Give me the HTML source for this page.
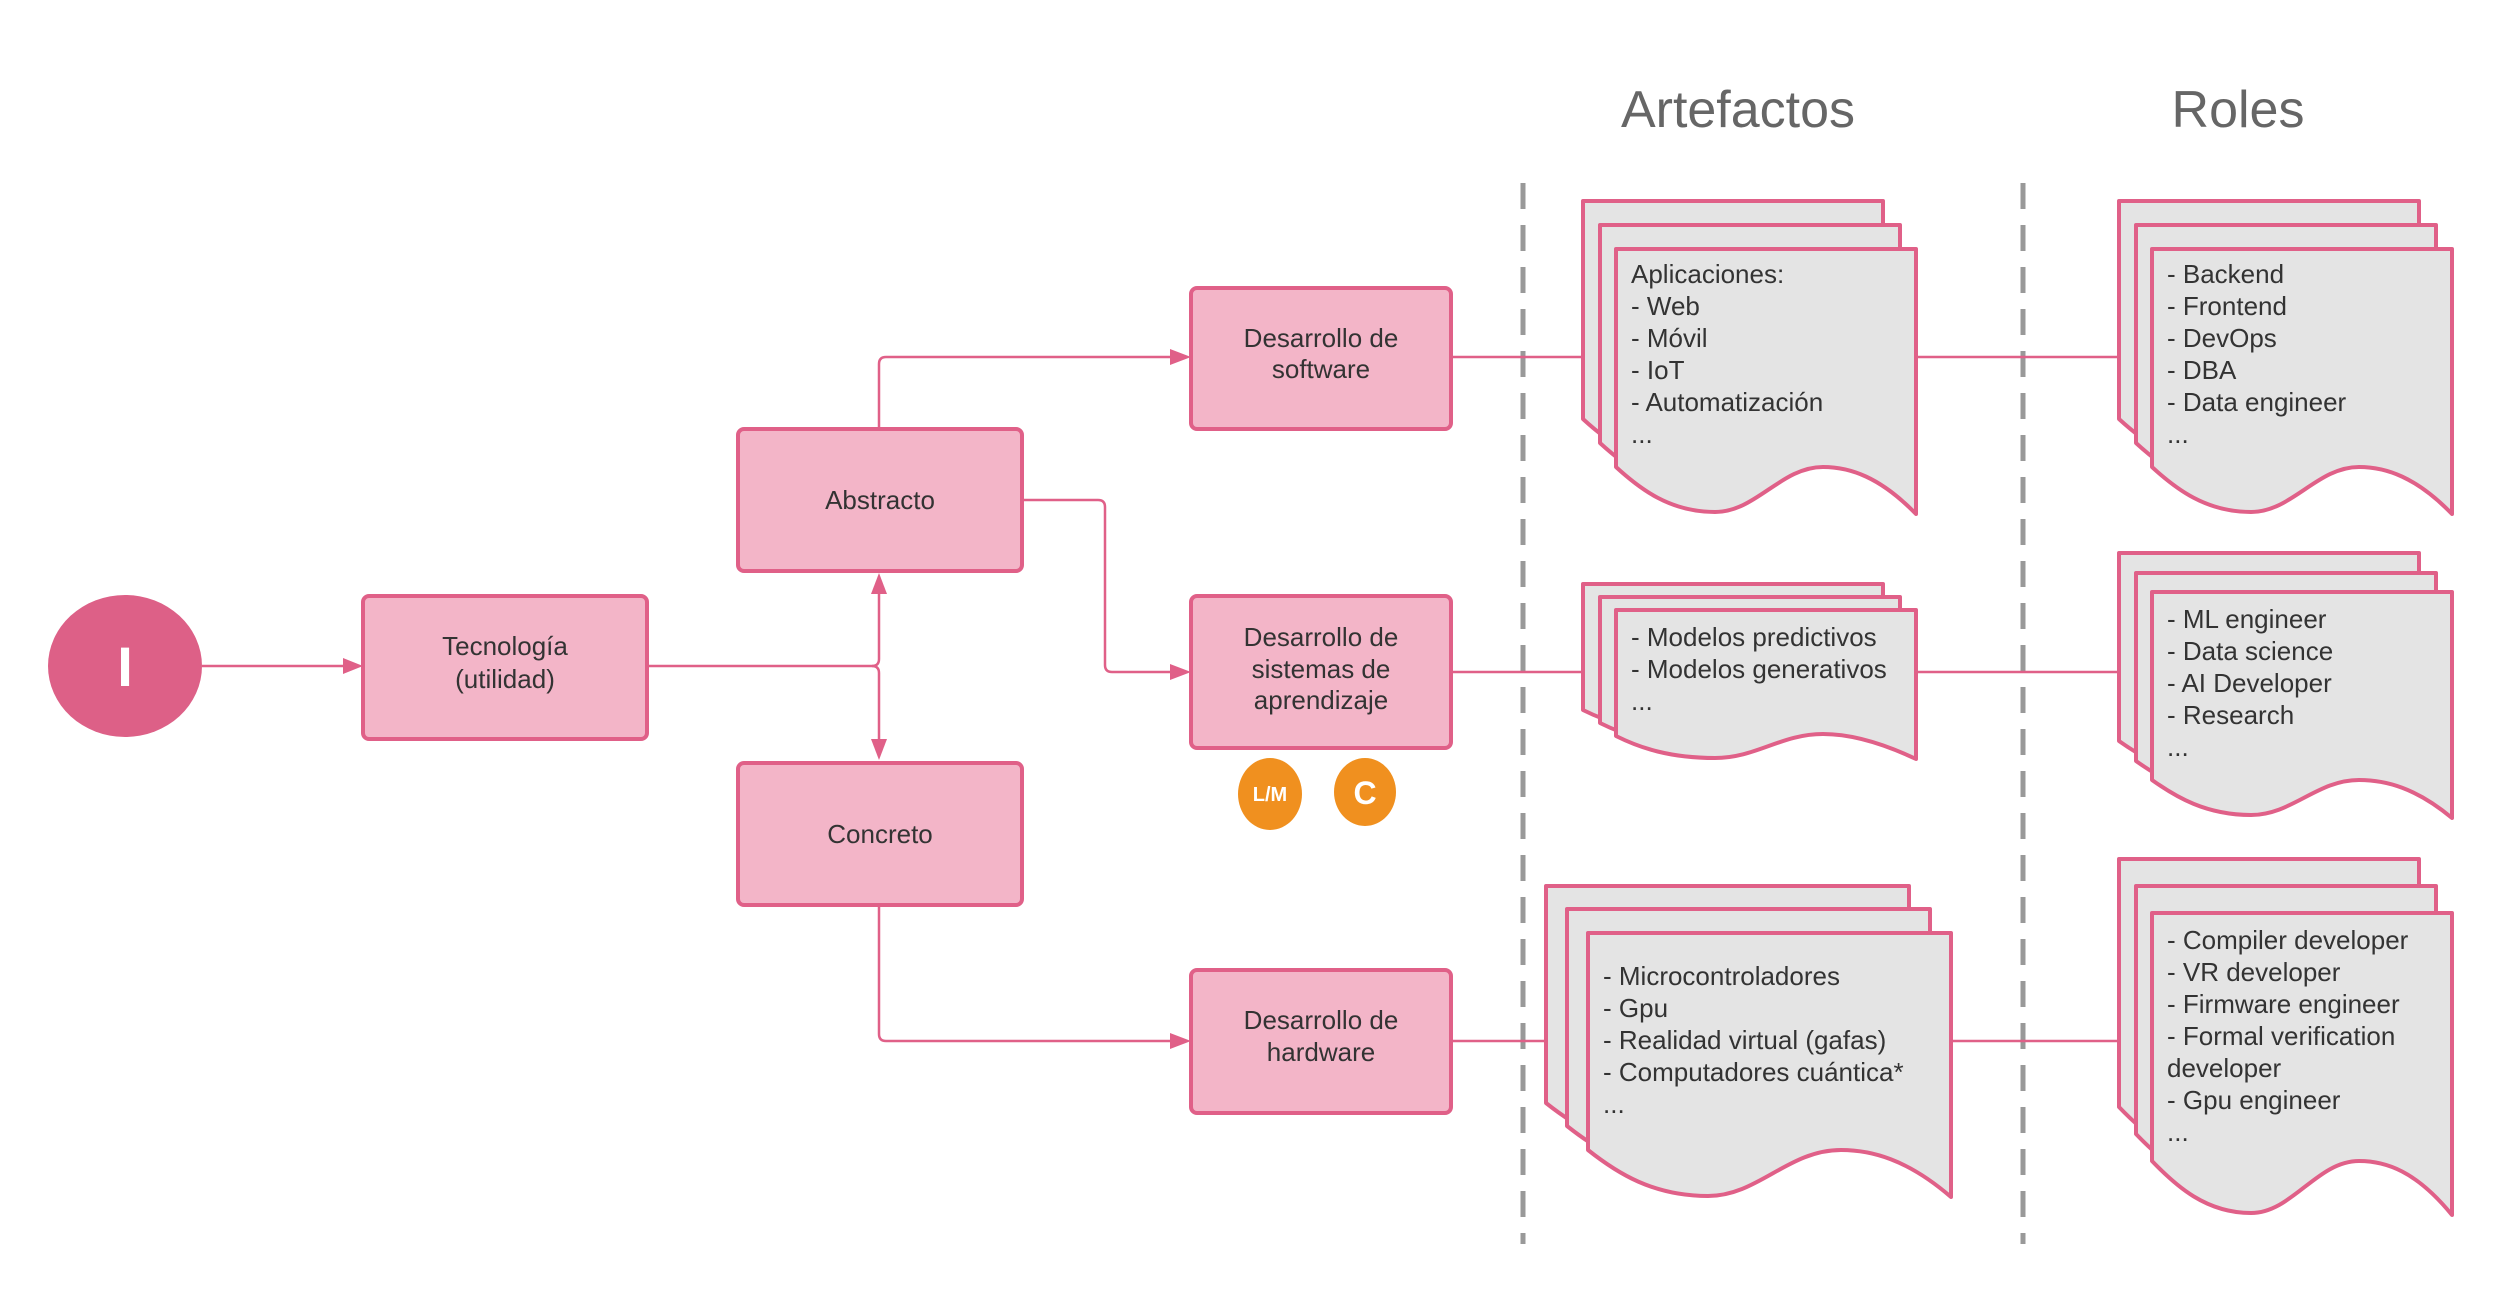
<!DOCTYPE html>
<html><head><meta charset="utf-8"><style>
html,body{margin:0;padding:0;background:#fff}
svg{display:block}
text{font-family:"Liberation Sans",sans-serif}
</style></head><body>
<svg width="2500" height="1289" viewBox="0 0 2500 1289" xmlns="http://www.w3.org/2000/svg">
<defs>
<path id="d1" d="M0,0 H300 V265 C264,228 234,218 207,218 C165,218 140,263 99,263 C54,263 24,240 0,218 Z"/>
<path id="d2" d="M0,0 H300 V149 C264,132 234,124 207,124 C165,124 140,148 99,148 C54,148 24,138 0,126 Z"/>
<path id="r2" d="M0,0 H300 V226 C264,196 234,188 207,188 C165,188 140,223 99,223 C54,223 24,205 0,188 Z"/>
<path id="d3" d="M0,0 H363 V264 C319,226 283,217 253,217 C200,217 170,263 120,263 C65,263 29,240 0,217 Z"/>
<path id="r3" d="M0,0 H300 V302 C264,258 234,248 207,248 C165,248 140,300 99,300 C54,300 24,273 0,248 Z"/>
</defs>

<text x="1738" y="127" font-size="52" fill="#666" text-anchor="middle">Artefactos</text>
<text x="2238" y="127" font-size="52" fill="#666" text-anchor="middle">Roles</text>

<line x1="1523" y1="183" x2="1523" y2="1244" stroke="#999" stroke-width="5" stroke-dasharray="26 16"/>
<line x1="2023" y1="183" x2="2023" y2="1244" stroke="#999" stroke-width="5" stroke-dasharray="26 16"/>

<g stroke="#e06088" stroke-width="2.5" fill="none">
<line x1="202" y1="666" x2="350" y2="666"/>
<path d="M647,666 H872 Q879,666 879,659 V585"/>
<path d="M872,666 Q879,666 879,673 V747"/>
<path d="M879,427 V364 Q879,357 886,357 H1177"/>
<path d="M1022,500 H1098 Q1105,500 1105,507 V665 Q1105,672 1112,672 H1177"/>
<path d="M879,905 V1034 Q879,1041 886,1041 H1177"/>
<line x1="1451" y1="357" x2="1583" y2="357"/>
<line x1="1916" y1="357" x2="2119" y2="357"/>
<line x1="1451" y1="672" x2="1583" y2="672"/>
<line x1="1916" y1="672" x2="2119" y2="672"/>
<line x1="1451" y1="1041" x2="1546" y2="1041"/>
<line x1="1951" y1="1041" x2="2119" y2="1041"/>
</g>
<g fill="#e06088">
<polygon points="363,666 343,658 343,674"/>
<polygon points="879,573 871,594 887,594"/>
<polygon points="879,760 871,739 887,739"/>
<polygon points="1191,357 1170,349 1170,365"/>
<polygon points="1191,672 1170,664 1170,680"/>
<polygon points="1191,1041 1170,1033 1170,1049"/>
</g>

<ellipse cx="125" cy="666" rx="77" ry="71" fill="#dd6087"/>
<text x="125" y="686" font-size="56" font-weight="bold" fill="#fff" text-anchor="middle">I</text>

<g fill="#f3b5c8" stroke="#e06088" stroke-width="4">
<rect x="363" y="596" width="284" height="143" rx="6"/>
<rect x="738" y="429" width="284" height="142" rx="6"/>
<rect x="738" y="763" width="284" height="142" rx="6"/>
<rect x="1191" y="288" width="260" height="141" rx="6"/>
<rect x="1191" y="596" width="260" height="152" rx="6"/>
<rect x="1191" y="970" width="260" height="143" rx="6"/>
</g>
<g font-size="26" fill="#333" text-anchor="middle">
<text x="505" y="655">Tecnología</text>
<text x="505" y="688">(utilidad)</text>
<text x="880" y="509">Abstracto</text>
<text x="880" y="843">Concreto</text>
<text x="1321" y="347">Desarrollo de</text>
<text x="1321" y="378">software</text>
<text x="1321" y="646">Desarrollo de</text>
<text x="1321" y="678">sistemas de</text>
<text x="1321" y="709">aprendizaje</text>
<text x="1321" y="1029">Desarrollo de</text>
<text x="1321" y="1061">hardware</text>
</g>

<ellipse cx="1270" cy="794" rx="32" ry="36" fill="#f0901f"/>
<ellipse cx="1365" cy="792" rx="31" ry="34" fill="#f0901f"/>
<text x="1270" y="801" font-size="20" font-weight="bold" fill="#fff" text-anchor="middle">L/M</text>
<text x="1365" y="804" font-size="32" font-weight="bold" fill="#fff" text-anchor="middle">C</text>

<g fill="#e4e4e4" stroke="#e06088" stroke-width="4" stroke-linejoin="round">
<g transform="translate(1616,249)"><use href="#d1" x="-33" y="-48"/><use href="#d1" x="-16" y="-24"/><use href="#d1"/></g>
<g transform="translate(2152,249)"><use href="#d1" x="-33" y="-48"/><use href="#d1" x="-16" y="-24"/><use href="#d1"/></g>
<g transform="translate(1616,610)"><use href="#d2" x="-33" y="-26"/><use href="#d2" x="-16" y="-13"/><use href="#d2"/></g>
<g transform="translate(2152,592)"><use href="#r2" x="-33" y="-39"/><use href="#r2" x="-16" y="-19"/><use href="#r2"/></g>
<g transform="translate(1588,933)"><use href="#d3" x="-42" y="-47"/><use href="#d3" x="-21" y="-24"/><use href="#d3"/></g>
<g transform="translate(2152,913)"><use href="#r3" x="-33" y="-54"/><use href="#r3" x="-16" y="-27"/><use href="#r3"/></g>
</g>

<g font-size="26" fill="#333">
<text x="1631" y="283">Aplicaciones:</text>
<text x="1631" y="315">- Web</text>
<text x="1631" y="347">- Móvil</text>
<text x="1631" y="379">- IoT</text>
<text x="1631" y="411">- Automatización</text>
<text x="1631" y="443">...</text>

<text x="2167" y="283">- Backend</text>
<text x="2167" y="315">- Frontend</text>
<text x="2167" y="347">- DevOps</text>
<text x="2167" y="379">- DBA</text>
<text x="2167" y="411">- Data engineer</text>
<text x="2167" y="443">...</text>

<text x="1631" y="646">- Modelos predictivos</text>
<text x="1631" y="678">- Modelos generativos</text>
<text x="1631" y="710">...</text>

<text x="2167" y="628">- ML engineer</text>
<text x="2167" y="660">- Data science</text>
<text x="2167" y="692">- AI Developer</text>
<text x="2167" y="724">- Research</text>
<text x="2167" y="756">...</text>

<text x="1603" y="985">- Microcontroladores</text>
<text x="1603" y="1017">- Gpu</text>
<text x="1603" y="1049">- Realidad virtual (gafas)</text>
<text x="1603" y="1081">- Computadores cuántica*</text>
<text x="1603" y="1113">...</text>

<text x="2167" y="949">- Compiler developer</text>
<text x="2167" y="981">- VR developer</text>
<text x="2167" y="1013">- Firmware engineer</text>
<text x="2167" y="1045">- Formal verification</text>
<text x="2167" y="1077">developer</text>
<text x="2167" y="1109">- Gpu engineer</text>
<text x="2167" y="1141">...</text>
</g>
</svg>
</body></html>
